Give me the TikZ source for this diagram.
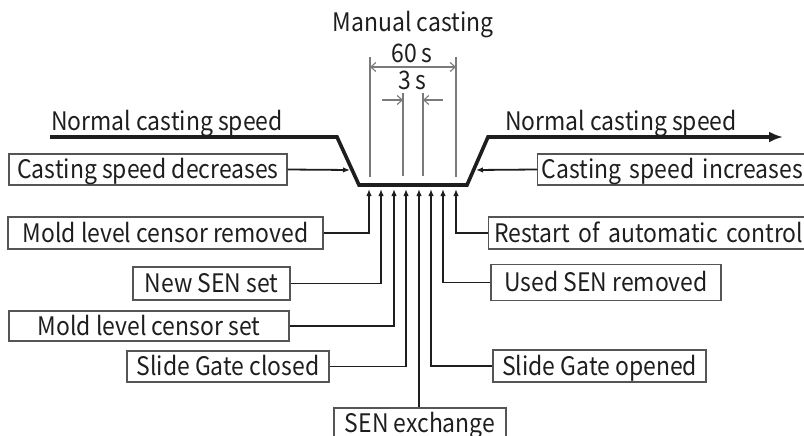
\documentclass[tikz,border=0pt]{standalone}
\usepackage{fontspec}
\setmainfont{Noto Sans CJK JP}[FakeStretch=0.9]
\usetikzlibrary{arrows.meta}
\definecolor{ink}{HTML}{1E1E1E}
\definecolor{frame}{HTML}{555555}
\definecolor{dim}{HTML}{7A7A7A}

\begin{document}
\begin{tikzpicture}[x=1pt,y=-1pt,
  lbl/.style={font=\fontsize{25.5}{28}\selectfont, text=ink, inner sep=0pt},
  tag/.style={draw=frame, line width=1.1pt, rectangle, inner sep=0pt,
    minimum height=31pt, text height=18pt, text depth=0pt,
    font=\fontsize{25.5}{28}\selectfont, text=ink},
  opentag/.style={tag, anchor=west, text width=340pt, align=left},
  speed/.style={line width=3.6pt, draw=ink, line join=miter},
  link/.style={line width=1.8pt, draw=ink, line join=miter,
    -{Latex[length=7pt,width=5.5pt]}},
  guide/.style={line width=1.2pt, draw=dim},
  barb/.tip={Straight Barb[length=5pt,width=9pt,line width=1.1pt]},
  span/.style={line width=1.1pt, draw=dim, {barb}-{barb}},
  halfspan/.style={line width=1.1pt, draw=dim, -{barb}}]

\useasboundingbox (0,0) rectangle (804,436);
\clip (0,0) rectangle (804,436);

% headings
\node[lbl, anchor=base] (mc)  at (413,32) {Manual casting};
\node[lbl, anchor=base] (t60) at (412,63) {60\,s};
\node[lbl, anchor=base] (t3)  at (412,89) {3\,s};
\node[lbl, anchor=base] (nl)  at (167,131) {Normal casting speed};
\node[lbl, anchor=base] (nr)  at (621,131) {Normal casting speed};

% casting speed profile
\coordinate (a0) at (50,137);
\coordinate (a1) at (337,137);
\coordinate (a2) at (359,185);
\coordinate (a3) at (467,185);
\coordinate (a4) at (488,137);
\coordinate (a5) at (783,137);
\draw[speed, -{Latex[length=14pt,width=11pt]}] (a0) -- (a1) -- (a2) -- (a3) -- (a4) -- (a5);

% timing guides
\coordinate (g1t) at (370,57);  \coordinate (g1b) at (370,177);
\coordinate (g4t) at (456,57);  \coordinate (g4b) at (456,177);
\coordinate (g2t) at (403,93);  \coordinate (g2b) at (403,176);
\coordinate (g3t) at (423,93);  \coordinate (g3b) at (423,176);
\draw[guide] (g1t) -- (g1b);
\draw[guide] (g4t) -- (g4b);
\draw[guide] (g2t) -- (g2b);
\draw[guide] (g3t) -- (g3b);
\coordinate (s60a) at (370,67);  \coordinate (s60b) at (456,67);
\draw[span] (s60a) -- (s60b);
\coordinate (s3a) at (382,100);  \coordinate (s3b) at (403,100);
\coordinate (s3c) at (443,100);  \coordinate (s3d) at (423,100);
\draw[halfspan] (s3a) -- (s3b);
\draw[halfspan] (s3c) -- (s3d);

% event boxes
\node[tag, minimum width=278pt] (dec)  at (148,169.5) {Casting speed decreases};
\node[tag, minimum width=315pt, minimum height=32pt] (mrem) at (165.5,233) {Mold level censor removed};
\node[tag, minimum width=157pt, minimum height=33pt] (nsen) at (211.5,283.5) {New SEN set};
\node[tag, minimum width=280pt, minimum height=30pt] (mset) at (149,326) {Mold level censor set};
\node[tag, minimum width=202pt] (sgc)  at (228,366.5) {Slide Gate closed};
\node[tag, minimum width=172pt] (senx) at (420,423.5) {SEN exchange};
\node[tag, minimum width=213pt, minimum height=32pt] (sgo)  at (599.5,366) {Slide Gate opened};
\node[tag, minimum width=230pt, minimum height=36pt] (usen) at (606,282.5) {Used SEN removed};
\node[opentag, minimum height=32pt, inner xsep=5.5pt] (rst) at (488,233) {Restart of automatic control};
\node[opentag, inner xsep=4pt] (inc) at (537,169.5) {Casting speed increases};

% arrow targets on the profile
\coordinate (pdec) at (350,170);
\coordinate (pinc) at (476,170);
\coordinate (h1) at (369,189);
\coordinate (h2) at (381,189);
\coordinate (h3) at (394,189);
\coordinate (h4) at (406,189);
\coordinate (h5) at (419,189);
\coordinate (h6) at (431,189);
\coordinate (h7) at (443,189);
\coordinate (h8) at (456,189);

\draw[link] (dec.east) -- (pdec);
\draw[link] (inc.west) -- (pinc);
\draw[link] (mrem.east) -| (h1);
\draw[link] (nsen.east) -| (h2);
\draw[link] (mset.east) -| (h3);
\draw[link] (sgc.east) -| (h4);
\draw[link] (senx.north -| h5) -- (h5);
\draw[link] (sgo.west) -| (h6);
\draw[link] (usen.west) -| (h7);
\draw[link] (rst.west) -| (h8);
\end{tikzpicture}
\end{document}
